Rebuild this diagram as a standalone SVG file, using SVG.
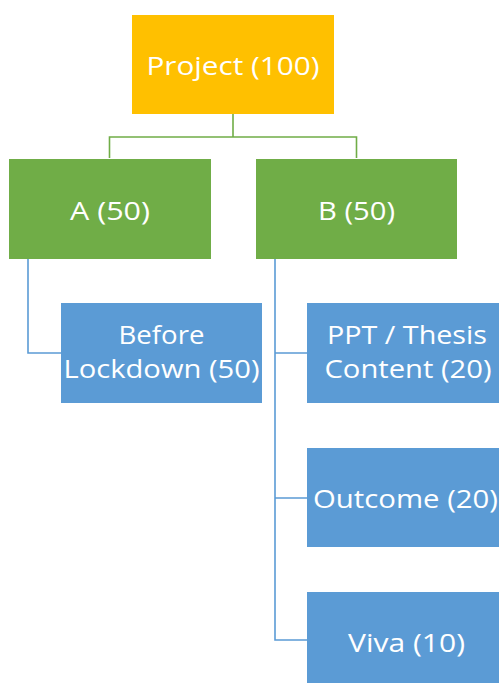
<svg xmlns="http://www.w3.org/2000/svg" width="499" height="683" viewBox="0 0 499 683">
<style>
.t{font-family:"Open Sans","Liberation Sans",sans-serif;font-size:25px;fill:#ffffff;text-anchor:middle}
.g{stroke:#70AD47;stroke-width:1.6;fill:none}
.b{stroke:#5B9BD5;stroke-width:1.6;fill:none}
</style>
<rect width="499" height="683" fill="#ffffff"/>
<g id="connectors">
<path class="g" d="M233,114 V137 M109.5,158 V137 H356.5 V158"/>
<path class="b" d="M28,259 V353 H61"/>
<path class="b" d="M275,259 V640 H307 M275,353 H307 M275,498 H307"/>
</g>
<g id="project">
<rect x="132" y="15" width="202" height="99" fill="#FFC000"/>
<text class="t" x="233" y="75" textLength="173" lengthAdjust="spacingAndGlyphs">Project (100)</text>
</g>
<g id="a">
<rect x="9" y="159" width="202" height="100" fill="#70AD47"/>
<text class="t" x="110" y="220" textLength="80" lengthAdjust="spacingAndGlyphs">A (50)</text>
</g>
<g id="b">
<rect x="256" y="159" width="201" height="100" fill="#70AD47"/>
<text class="t" x="356.5" y="220" textLength="77" lengthAdjust="spacingAndGlyphs">B (50)</text>
</g>
<g id="before">
<rect x="61" y="303" width="201" height="100" fill="#5B9BD5"/>
<text class="t" x="161.5" y="344" textLength="86" lengthAdjust="spacingAndGlyphs">Before</text>
<text class="t" x="161.5" y="378" textLength="196" lengthAdjust="spacingAndGlyphs">Lockdown (50)</text>
</g>
<g id="ppt">
<rect x="307" y="303" width="201" height="100" fill="#5B9BD5"/>
<text class="t" x="407" y="344" textLength="160" lengthAdjust="spacingAndGlyphs">PPT / Thesis</text>
<text class="t" x="408" y="378" textLength="167" lengthAdjust="spacingAndGlyphs">Content (20)</text>
</g>
<g id="outcome">
<rect x="307" y="448" width="201" height="99" fill="#5B9BD5"/>
<text class="t" x="405.5" y="508" textLength="185" lengthAdjust="spacingAndGlyphs">Outcome (20)</text>
</g>
<g id="viva">
<rect x="307" y="592" width="201" height="100" fill="#5B9BD5"/>
<text class="t" x="406.5" y="652" textLength="117" lengthAdjust="spacingAndGlyphs">Viva (10)</text>
</g>
</svg>
